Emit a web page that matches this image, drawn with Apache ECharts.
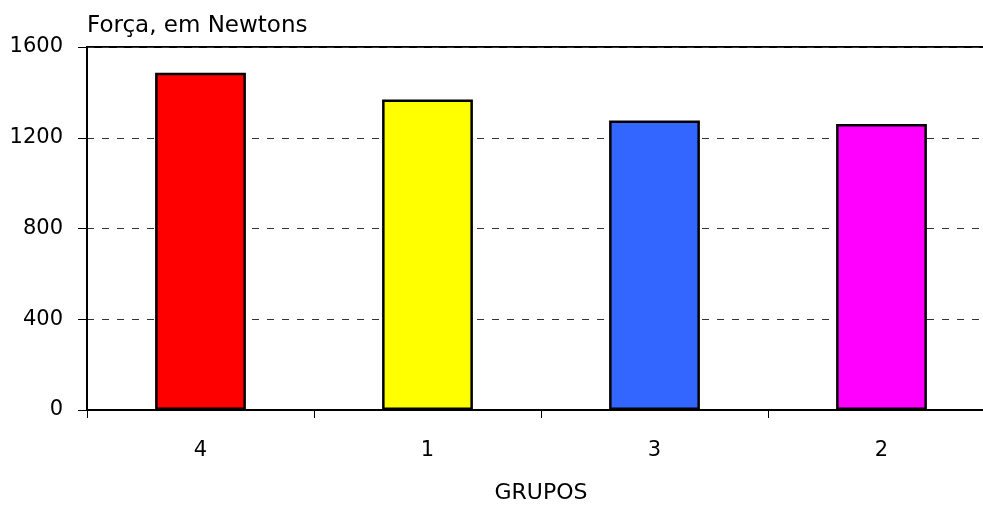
<!DOCTYPE html>
<html><head><meta charset="utf-8">
<script src="https://cdn.jsdelivr.net/npm/echarts@6/dist/echarts.min.js"></script>
<style>html,body{margin:0;padding:0;background:#fff}#c{width:983px;height:505px}</style>
</head><body><div id="c"></div>
<script>
const categories = ['4', '1', '3', '2'];
const values = [1487, 1369, 1276, 1261];
const barColors = ['#FF0000', '#FFFF00', '#3366FF', '#FF00FF'];
const yTicks = [0, 400, 800, 1200, 1600];
const yTitle = 'Força, em Newtons';
const xTitle = 'GRUPOS';

const font = 'DejaVu Sans';
const chart = echarts.init(document.getElementById('c'));
chart.setOption({
  animation: false,
  textStyle: { fontFamily: font },
  title: { text: yTitle, left: 87, top: 15, padding: 0, textStyle: { fontFamily: font, fontSize: 23, fontWeight: 'normal', color: '#000' } },
  grid: { left: 87, width: 908, top: 47, height: 363, containLabel: false, outerBoundsMode: 'none', show: true, borderColor: '#000', borderWidth: 2, backgroundColor: 'transparent' },
  xAxis: {
    type: 'category', data: categories,
    name: xTitle, nameLocation: 'middle', nameGap: 72,
    nameTextStyle: { fontFamily: font, fontSize: 22, color: '#000' },
    axisLine: { lineStyle: { color: '#000', width: 2 } },
    axisTick: { show: true, length: 8, lineStyle: { color: '#000', width: 1 } },
    axisLabel: { fontFamily: font, fontSize: 21, color: '#000', margin: 30 }
  },
  yAxis: {
    type: 'value', min: yTicks[0], max: yTicks[yTicks.length - 1], interval: 400,
    axisLine: { show: true, lineStyle: { color: '#000', width: 2 } },
    axisTick: { show: true, length: 9, lineStyle: { color: '#000', width: 1 } },
    axisLabel: { fontFamily: font, fontSize: 21, color: '#000', margin: 24, formatter: v => String(v) },
    splitLine: { show: true, lineStyle: { color: '#333', type: [7, 8], width: 1 } }
  },
  series: [{
    type: 'bar', barWidth: '40%',
    data: values.map((v, i) => ({ value: v, itemStyle: { color: barColors[i] } })),
    itemStyle: { borderColor: '#000', borderWidth: 2.5 }
  }]
});
</script></body></html>
